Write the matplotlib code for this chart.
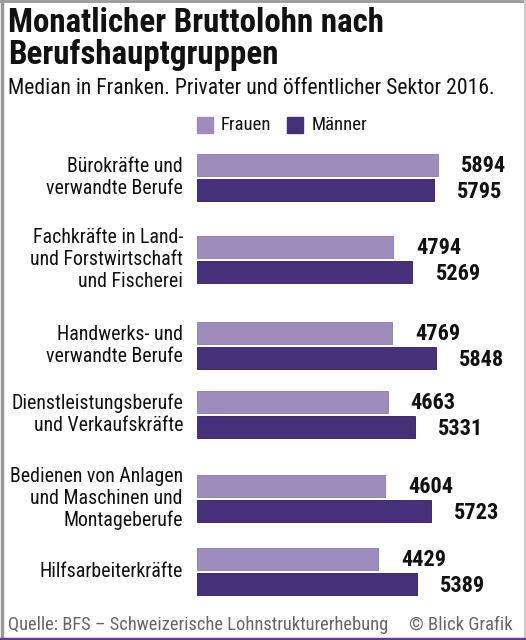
import matplotlib.pyplot as plt
import matplotlib.patches as patches
from matplotlib.lines import Line2D

# data
categories = ["Bürokräfte und\nverwandte Berufe",
              "Fachkräfte in Land-\nund Forstwirtschaft\nund Fischerei",
              "Handwerks- und\nverwandte Berufe",
              "Dienstleistungsberufe\nund Verkaufskräfte",
              "Bedienen von Anlagen\nund Maschinen und\nMontageberufe",
              "Hilfsarbeiterkräfte"]
frauen = [5894, 4794, 4769, 4663, 4604, 4429]
maenner = [5795, 5269, 5848, 5331, 5723, 5389]

# layout (pixel rows of each group centre)
group_y = [177.5, 259.5, 345.5, 414.5, 498.5, 571.5]
bar_h = 22
gap = 3

c_f = "#9d8dbd"
c_m = "#46307a"
W, H = 526, 640
plt.rcParams['font.family'] = ["Roboto Condensed", "DejaVu Sans"]

fig = plt.figure(figsize=(W / 100, H / 100), dpi=100)
fig.patch.set_facecolor("white")

x0 = 197
scale = 241 / 5894  # px per franc
ax = fig.add_axes([x0 / W, 0, 1 - x0 / W, 1])
ax.set_xlim(0, (W - x0) / scale)
ax.set_ylim(H, 0)
ax.axis("off")

yf = [g - (bar_h + gap) / 2 for g in group_y]
ym = [g + (bar_h + gap) / 2 for g in group_y]
ax.barh(yf, frauen, height=bar_h, color=c_f, edgecolor="#8a7aae", linewidth=0.6)
ax.barh(ym, maenner, height=bar_h, color=c_m, edgecolor="#2e1d5c", linewidth=0.6)

off = 23 / scale
for y, v in zip(yf, frauen):
    ax.text(v + off, y + 1, str(v), ha="left", va="center", fontsize=16,
            fontweight="bold", color="#111111")
for y, v in zip(ym, maenner):
    ax.text(v + off, y + 2, str(v), ha="left", va="center", fontsize=16,
            fontweight="bold", color="#111111")

def fy(px):
    return 1 - px / H

for g, lab in zip(group_y, categories):
    fig.text(183 / W, fy(g), lab, ha="right", va="center", fontsize=14.3,
             linespacing=1.2, color="#111111")

# title block
fig.text(8 / W, fy(32), "Monatlicher Bruttolohn nach", fontsize=23.8,
         fontweight="bold", va="baseline", color="#111111")
fig.text(8 / W, fy(64), "Berufshauptgruppen", fontsize=23.8,
         fontweight="bold", va="baseline", color="#111111")
fig.text(8 / W, fy(94), "Median in Franken. Privater und öffentlicher Sektor 2016.",
         fontsize=15.6, va="baseline", color="#111111")

# legend
fig.add_artist(patches.Rectangle((197 / W, fy(133)), 16 / W, 16 / H,
                                 transform=fig.transFigure, color=c_f))
fig.text(221 / W, fy(125), "Frauen", fontsize=13.5, va="center", color="#111111")
fig.add_artist(patches.Rectangle((287 / W, fy(133)), 16 / W, 16 / H,
                                 transform=fig.transFigure, color=c_m))
fig.text(312 / W, fy(125), "Männer", fontsize=13.5, va="center", color="#111111")

# footer
fig.text(8 / W, fy(630), "Quelle: BFS – Schweizerische Lohnstrukturerhebung",
         fontsize=13.3, va="baseline", color="#666666")
fig.text(513 / W, fy(630), "© Blick Grafik", fontsize=13.5, ha="right",
         va="baseline", color="#666666")

# frame
fig.add_artist(Line2D([0, 1], [fy(1), fy(1)], transform=fig.transFigure,
                      color="#999999", lw=2))
fig.add_artist(Line2D([1.5 / W, 1.5 / W], [0, 1], transform=fig.transFigure,
                      color="#999999", lw=2.5))
fig.add_artist(Line2D([524.5 / W, 524.5 / W], [0, 1], transform=fig.transFigure,
                      color="#cccccc", lw=1.5))
fig.add_artist(Line2D([0, 1], [fy(638.5), fy(638.5)], transform=fig.transFigure,
                      color="#5a3f8c", lw=2.5))

fig.savefig("out.png", dpi=100)
